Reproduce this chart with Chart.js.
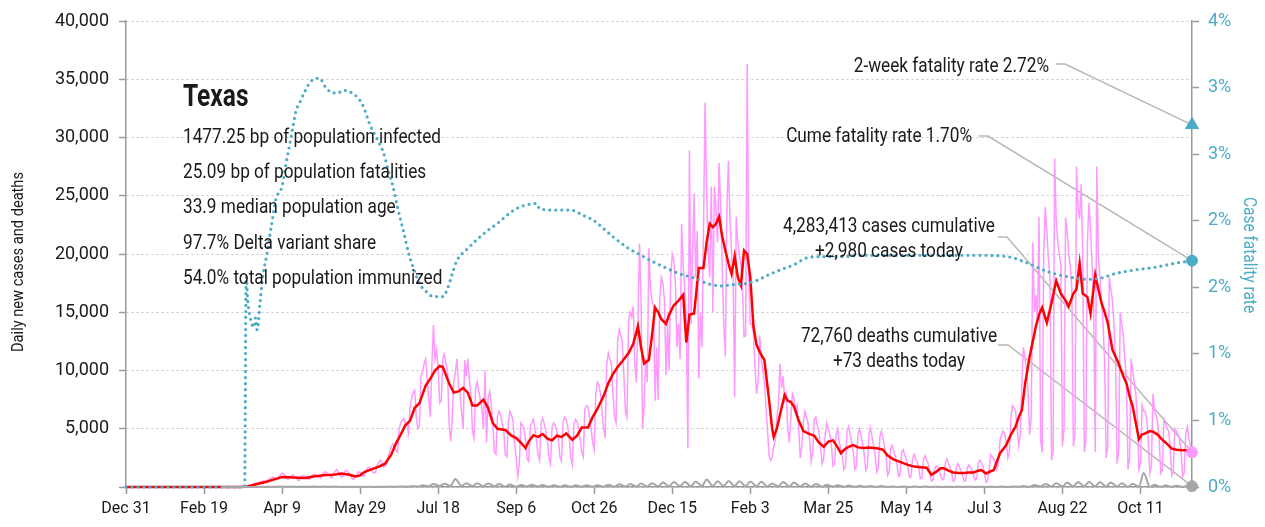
<!DOCTYPE html>
<html>
<head>
<meta charset="utf-8">
<title>Texas COVID-19</title>
<script src="https://cdn.jsdelivr.net/npm/chart.js@4.4.1/dist/chart.umd.min.js"></script>
<style>
  html, body { margin: 0; padding: 0; background: #fff; }
</style>
</head>
<body>
<canvas id="covidChart" width="1265" height="527"></canvas>
<script>
// x axis is days since Dec 31, 2019
const xTickDays = [0, 50, 100, 150, 200, 250, 300, 350, 400, 450, 500, 550, 600, 650];
const xTickLabels = ["Dec 31", "Feb 19", "Apr 9", "May 29", "Jul 18", "Sep 6", "Oct 26",
  "Dec 15", "Feb 3", "Mar 25", "May 14", "Jul 3", "Aug 22", "Oct 11"];
const lastDay = 683;

// daily new cases, one value per day starting at caseStartDay (weeks Sun..Sat)
const caseStartDay = 61;
const dailyCases = [
  0,0,1,2,3,3,5, 6,8,12,15,25,30,40, 50,55,80,100,150,180,200, 250,280,320,380,420,480,520,
  500,520,600,700,780,850,820, 650,700,900,1050,1200,1150,950, 700,650,900,950,1050,900,800,
  600,550,850,950,1000,900,800, 650,700,950,1050,1100,1000,900, 800,750,1100,1250,1300,1150,1000,
  850,800,1200,1350,1500,1300,1050, 850,900,1250,1450,1300,1150,1000, 700,650,900,1100,1300,1250,1100,
  900,1000,1500,1650,1700,1500,1300, 1200,1300,1900,2100,2300,2000,1700, 1800,2000,2600,3100,3500,3700,3400,
  3100,3000,5000,5500,5700,5900,5400, 5400,4600,6900,7600,8100,8300,6000, 5000,5200,9500,9900,10600,11000,9300,
  7500,6000,10500,13900,11000,11800,10200, 7200,7400,11000,11400,10600,9900,5500, 3900,5800,9100,9800,11000,8800,8000,
  6400,5000,10900,9500,11000,9200,8000, 4800,4200,8500,9000,8200,7500,6800, 5000,10000,3800,7600,8200,7000,5600,
  3000,2800,6000,6500,6200,5500,4900, 2800,2600,5500,6500,6200,5600,3700, 2500,900,2000,5500,5300,5000,4000,
  2400,2200,5200,5500,5800,5000,4000, 2800,2300,5600,5900,5400,4800,4000, 2500,2000,5200,5500,5300,4800,4100,
  2600,2200,5500,6000,5800,5200,4200, 2500,1900,5400,5800,5600,5000,4100, 3000,2600,6700,7000,6900,6000,5000,
  3800,3200,8000,9000,8800,8000,6500, 5000,4200,10500,11500,11000,10500,8000, 6000,5500,12500,13500,13000,12500,9500,
  6500,6000,14300,15000,14600,15500,10500, 9000,14000,20900,16000,5000,7000,11000, 9000,20500,17000,16000,15500,7400,12000,
  7500,16200,18000,17500,16000,9600,14000, 10000,18000,20000,19500,17500,12000,14000, 11000,22600,19000,17000,14000,3300,28900,
  14000,20000,25200,18000,22000,9300,15000, 12000,22000,33000,25500,20300,18000,25800, 15000,25800,24000,21000,27800,24000,19000,
  14000,11200,24000,28000,23000,20000,18000, 7700,23200,21000,20000,19000,17000,12900, 13000,36300,18000,14000,14000,13200,10300,
  8000,9000,13000,11000,10000,9000,7000, 5000,2700,2300,2500,3500,4000,6000, 7000,10600,8500,9500,7500,8000,5000,
  3800,6000,8000,7600,6500,7000,5000, 2500,3500,5500,6500,6000,5500,4000, 2200,3000,5800,6000,5200,4800,3500,
  2000,2400,4500,5500,5000,4500,3500, 1800,2000,4500,5000,3800,3300,2500, 1500,1800,4800,5200,4500,3800,3000,
  1500,1800,4600,5000,4400,3700,2800, 1400,1700,4500,5100,4300,3600,2700, 1300,1600,4300,4800,4200,3500,2600,
  1000,1300,3400,3600,3000,2600,1900, 900,1100,3000,3200,2700,2400,1700, 800,900,2500,2800,2400,2100,1500,
  700,800,2400,2700,2300,2000,1300, 500,600,1500,1800,1700,1400,1000, 600,700,2100,2400,2000,1700,1200,
  500,600,1700,2000,1700,1400,1000, 500,550,1600,1900,1700,1500,1000, 600,700,2000,2300,2100,1800,1200,
  400,500,1500,2800,2600,2400,2000, 1500,2000,4000,4500,4800,4600,3800, 2500,3000,6000,7000,6800,6500,5000,
  3500,4500,9000,12000,11000,10000,8000, 4500,6000,21000,15000,16500,14000,23200, 4000,3000,20000,24000,22000,19500,18000,
  2300,3000,28200,22900,21000,20000,19000, 3500,5000,23100,22000,20000,19000,17000, 3500,4500,27500,24000,23000,26000,20000,
  3000,4000,21000,24400,22000,19000,16000, 3000,27500,20000,18000,16000,14000,11000, 2500,3500,18000,17000,16000,14000,11000,
  2000,3000,15000,14000,13000,11000,9000, 1500,2500,11000,10000,9000,8000,6000, 1500,2000,7000,6500,6500,5800,4000,
  1200,1800,8000,6500,6200,5500,4000, 1200,1500,5800,5500,5000,4800,3500, 1000,1300,5000,4800,4500,4200,3000,
  900,1200,4600,5200,4200,3500,2980
];

// 7-day average of new cases
const avgDays = [0,74,78,84,90,96,100,104,110,115, 120,128,133,138,143,147,150,153,158,162,
  166,170,173,176,179,182,185,188,192,195, 198,201,203,205,207,210,213,216,219,222,
  225,229,232,235,238,243,247,250,253,256, 258,261,264,267,270,273,276,279,282,286,
  289,292,296,299,302,306,309,312,315,318, 322,325,328,330,332,335,337,339,341,343,
  346,348,351,354,357,359,361,364,367,370, 372,374,376,378,380,382,384,386,388,390,
  392,394,396,398,400,402,404,406,409,412, 414,415,417,419,422,424,426,428,431,434,
  437,441,444,447,450,453,456,458,461,464, 466,469,473,476,479,482,485,488,492,495,
  498,501,505,509,513,516,519,522,524,527, 530,534,537,540,543,546,548,551,554,556,
  558,560,564,567,570,572,574,576,579,581, 583,585,587,590,593,596,599,602,604,607,
  609,611,613,616,618,621,623,625,627,629, 632,636,639,641,643,645,647,649,651,653,
  656,658,661,664,667,670,673,677,683];
const avgCases = [0,0,50,250,450,700,850,830,800,780, 900,1030,1050,1150,1050,900,1000,1300,1550,1750,
  2000,2800,3750,4500,5300,5700,6800,7200,8700,9300, 10000,10400,10300,9600,8900,8100,8200,8500,8100,7000,
  7000,7500,6800,5500,5000,4900,4400,4200,3800,3350, 3900,4450,4300,4550,4150,4000,4400,4300,4600,4050,
  4400,5100,5100,6000,6700,7800,8900,9700,10300,10800, 11500,12300,13800,12000,10600,10900,13000,15400,15000,14400,
  14000,14800,15600,16000,16500,12400,14800,14900,18800,18800, 21000,22600,22300,22600,23200,21500,20300,19200,18300,19800,
  18000,17300,20300,20000,18000,13800,12200,11600,10900,7500, 5000,4300,5000,6200,7900,7400,7300,6900,5700,4800,
  4600,4400,3800,3450,3900,4000,3400,2900,3300,3500, 3600,3400,3350,3400,3350,3300,3200,2700,2350,2200,
  2050,1900,1750,1700,1650,1050,1300,1600,1600,1400, 1250,1200,1200,1250,1250,1400,1450,1150,1350,1450,
  2200,2900,3600,4500,5200,6000,6600,8800,11200,12500, 13800,14800,15400,14100,15800,17700,16600,16000,15500,16600,
  17000,19200,16600,16300,14900,18200,17000,15800,15000,14100, 11800,10600,9500,8900,7800,6900,5500,4100,4500,4600,
  4800,4750,4500,4050,3700,3300,3200,3150,3150];

// daily deaths, weekly low (Sunday) and high (Wednesday)
const deathWeekStart = 61;
const deathLow = [0,0,1,5,10, 15,15,12,15, 12,12,10,10,10, 10,15,20,25, 50,70,90,100, 90,80,70,60,
  40,25,35,35,25, 20,20,25,30, 30,35,40,45, 50,55,60,70,60, 80,90,80,80,70, 60,40,60,50,
  40,30,25,20, 15,12,12,10, 10,10,8,8, 5,5,5,5, 5,5,8,10,20, 25,40,50,60, 60,60,55,50,40,
  30,25,20,15, 12,10];
const deathHigh = [0,1,3,12,25, 40,35,30,35, 35,35,30,25,30, 30,35,50,60, 150,250,280,690, 330,320,300,260,
  220,170,190,180,160, 140,140,150,160, 200,230,260,300, 330,380,420,450,470, 650,500,520,500,480,
  450,300,420,380, 300,250,200,160, 120,100,90,80, 50,45,40,35, 30,30,25,25, 25,25,35,50,80,
  180,260,320,380, 420,440,430,380,330, 280,1200,190,140, 110,90];

// case fatality rate (%)
const cfrDays = [0,76,77,78,80,82,83,84,86,88, 90,93,96,100,103,105,107,109,111,115,
  118,122,124,128,133,136,139,143,148,152, 156,161,165,168,171,174,178,181,184,188,
  193,197,203,206,209,212,218,225,231,238, 244,250,257,263,265,274,285,293,300,306,
  312,321,330,338,347,355,364,372,381,389, 398,404,411,419,428,436,445,458,471,505,
  548,565,578,590,603,616,625,633,646,659, 672,683];
const cfrRate = [0,0,1.58,1.40,1.25,1.20,1.27,1.18,1.40,1.61, 1.73,1.95,2.16,2.26,2.46,2.58,2.71,2.83,2.88,2.98,
  3.04,3.07,3.07,3.00,2.96,2.96,2.98,2.97,2.93,2.86, 2.73,2.61,2.51,2.38,2.26,2.10,1.91,1.76,1.65,1.53,
  1.46,1.43,1.43,1.49,1.60,1.70,1.78,1.86,1.92,1.98, 2.04,2.09,2.12,2.13,2.09,2.08,2.08,2.04,2.00,1.94,
  1.88,1.80,1.74,1.69,1.64,1.60,1.57,1.53,1.51,1.52, 1.53,1.55,1.59,1.63,1.67,1.72,1.73,1.73,1.74,1.74,
  1.74,1.73,1.68,1.62,1.58,1.56,1.57,1.60,1.63,1.65, 1.68,1.70];

// latest figures
const twoWeekRate = 2.72;
const cumeRate = 1.70;
const casesCumulative = 4283413;
const casesToday = 2980;
const deathsCumulative = 72760;
const deathsToday = 73;

const stateName = "Texas";
const statLines = [
  "1477.25 bp of population infected",
  "25.09 bp of population fatalities",
  "33.9 median population age",
  "97.7% Delta variant share",
  "54.0% total population immunized"
];
const leftTitle = "Daily new cases and deaths";
const rightTitle = "Case fatality rate";

const chartFont = "Roboto, 'Liberation Sans', sans-serif";
const CYAN = "#4bacc6";
const PINK = "#ff99ff";
const RED = "#ff0000";
const GREY = "#a6a6a6";
const INK = "#1a1a1a";

Chart.defaults.font.family = chartFont;

// build point lists
const pinkData = dailyCases.map((v, i) => ({ x: caseStartDay + i, y: v }));
const redData = avgDays.map((d, i) => ({ x: d, y: avgCases[i] }));
const cfrData = cfrDays.map((d, i) => ({ x: d, y: cfrRate[i] }));
const deathData = [];
deathLow.forEach((v, w) => {
  deathData.push({ x: deathWeekStart + 7 * w, y: v });
  deathData.push({ x: deathWeekStart + 7 * w + 3, y: deathHigh[w] });
});
deathData.push({ x: lastDay, y: deathsToday });

// the reference uses a condensed face, so squeeze text horizontally
function drawText(ctx, text, x, y, align, squeeze) {
  const w = ctx.measureText(text).width * squeeze;
  const left = align === "right" ? x - w : align === "center" ? x - w / 2 : x;
  ctx.save();
  ctx.translate(left, y);
  ctx.scale(squeeze, 1);
  ctx.textAlign = "left";
  ctx.fillText(text, 0, 0);
  ctx.restore();
}

// leader lines, text notes and axis titles
const notes = {
  id: "notes",
  beforeDatasetsDraw(chart) {
    const { ctx, scales } = chart;
    const xEnd = scales.x.getPixelForValue(lastDay);
    const leaders = [
      [1056, 64, 1065, scales.yRate.getPixelForValue(twoWeekRate)],
      [979, 136, 988, scales.yRate.getPixelForValue(cumeRate)],
      [998, 237, 1007, scales.y.getPixelForValue(casesToday)],
      [998, 345, 1008, scales.y.getPixelForValue(deathsToday)]
    ];
    ctx.save();
    ctx.strokeStyle = "#b8b8b8";
    ctx.lineWidth = 1.5;
    leaders.forEach(([x0, y0, x1, yEnd]) => {
      ctx.beginPath();
      ctx.moveTo(x0, y0);
      ctx.lineTo(x1, y0);
      ctx.lineTo(xEnd, yEnd);
      ctx.stroke();
    });
    ctx.restore();
  },
  afterDraw(chart) {
    const ctx = chart.ctx;
    ctx.save();
    ctx.fillStyle = INK;
    ctx.textBaseline = "alphabetic";

    ctx.font = "20px " + chartFont;
    const sq = 258 / ctx.measureText(statLines[0]).width;
    statLines.forEach((t, i) => drawText(ctx, t, 183, 143 + i * 35.2, "left", sq));
    drawText(ctx, `2-week fatality rate ${twoWeekRate.toFixed(2)}%`, 1049, 72, "right", sq);
    drawText(ctx, `Cume fatality rate ${cumeRate.toFixed(2)}%`, 972, 142, "right", sq);
    drawText(ctx, `${casesCumulative.toLocaleString("en-US")} cases cumulative`, 889, 232, "center", sq);
    drawText(ctx, `+${casesToday.toLocaleString("en-US")} cases today`, 889, 257, "center", sq);
    drawText(ctx, `${deathsCumulative.toLocaleString("en-US")} deaths cumulative`, 899, 342, "center", sq);
    drawText(ctx, `+${deathsToday} deaths today`, 899, 367, "center", sq);

    ctx.font = "bold 31px " + chartFont;
    drawText(ctx, stateName, 183, 106, "left", sq * 0.92);

    // axis titles
    ctx.textBaseline = "middle";
    ctx.font = "17px " + chartFont;
    ctx.save();
    ctx.translate(19, 262);
    ctx.rotate(-Math.PI / 2);
    drawText(ctx, leftTitle, 0, 0, "center", sq);
    ctx.restore();
    ctx.fillStyle = CYAN;
    ctx.font = "18px " + chartFont;
    ctx.save();
    ctx.translate(1248, 255);
    ctx.rotate(Math.PI / 2);
    drawText(ctx, rightTitle, 0, 0, "center", sq);
    ctx.restore();
    ctx.restore();
  }
};

new Chart(document.getElementById("covidChart"), {
  type: "line",
  data: {
    datasets: [
      { data: [{ x: lastDay, y: twoWeekRate }], yAxisID: "yRate", showLine: false, clip: false,
        pointStyle: "triangle", pointRadius: 7.5, backgroundColor: CYAN, borderColor: CYAN, order: 0 },
      { data: [{ x: lastDay, y: cumeRate }], yAxisID: "yRate", showLine: false, clip: false,
        pointRadius: 5.5, backgroundColor: CYAN, borderColor: CYAN, order: 0 },
      { data: [{ x: lastDay, y: casesToday }], yAxisID: "y", showLine: false, clip: false,
        pointRadius: 5.5, backgroundColor: PINK, borderColor: PINK, order: 0 },
      { data: [{ x: lastDay, y: deathsToday }], yAxisID: "y", showLine: false, clip: false,
        pointRadius: 5.5, backgroundColor: GREY, borderColor: GREY, order: 0 },
      { label: "Deaths", data: deathData, yAxisID: "y", borderColor: GREY, borderWidth: 2, clip: false,
        cubicInterpolationMode: "monotone", pointRadius: 0, order: 1 },
      { label: "Case fatality rate", data: cfrData, yAxisID: "yRate", borderColor: CYAN, borderWidth: 3.2,
        borderDash: [0, 6], borderCapStyle: "round", cubicInterpolationMode: "monotone", pointRadius: 0,
        clip: false, order: 2 },
      { label: "7-day average", data: redData, yAxisID: "y", borderColor: RED, borderWidth: 2.5,
        pointRadius: 0, clip: false, order: 3 },
      { label: "Daily cases", data: pinkData, yAxisID: "y", borderColor: PINK, borderWidth: 1.5,
        pointRadius: 0, order: 4 }
    ]
  },
  options: {
    responsive: false,
    animation: false,
    layout: { padding: { top: 21 } },
    plugins: { legend: { display: false }, tooltip: { enabled: false } },
    scales: {
      x: {
        type: "linear",
        min: 0,
        max: lastDay,
        afterBuildTicks: (scale) => { scale.ticks = xTickDays.map(v => ({ value: v })); },
        afterFit: (scale) => { scale.height = 40; },
        ticks: {
          autoSkip: false, maxRotation: 0, padding: 5, color: INK,
          font: { size: 16 },
          callback: (v, i) => xTickLabels[i]
        },
        grid: { drawOnChartArea: false, tickLength: 7, tickColor: "#999", tickWidth: 1.5 },
        border: { color: "#999", width: 1.5 }
      },
      y: {
        position: "left",
        min: 0,
        max: 40000,
        afterFit: (scale) => { scale.width = 126; },
        ticks: {
          stepSize: 5000, padding: 10, color: INK, font: { size: 18 },
          callback: (v) => v === 0 ? "" : v.toLocaleString("en-US")
        },
        grid: { color: "#c4c4c4", lineWidth: 1, tickLength: 7, tickColor: "#999", tickWidth: 1.5 },
        border: { color: "#999", width: 1.5, dash: [2, 3] }
      },
      yRate: {
        position: "right",
        min: 0,
        max: 3.5,
        afterFit: (scale) => { scale.width = 73; },
        ticks: {
          stepSize: 0.5, padding: 9, color: CYAN, font: { size: 18 },
          callback: (v) => Math.round(v) + "%"
        },
        grid: { drawOnChartArea: false, tickLength: 7, tickColor: "#999", tickWidth: 1.5 },
        border: { color: "#999", width: 1.5 }
      }
    }
  },
  plugins: [notes]
});
</script>
</body>
</html>
